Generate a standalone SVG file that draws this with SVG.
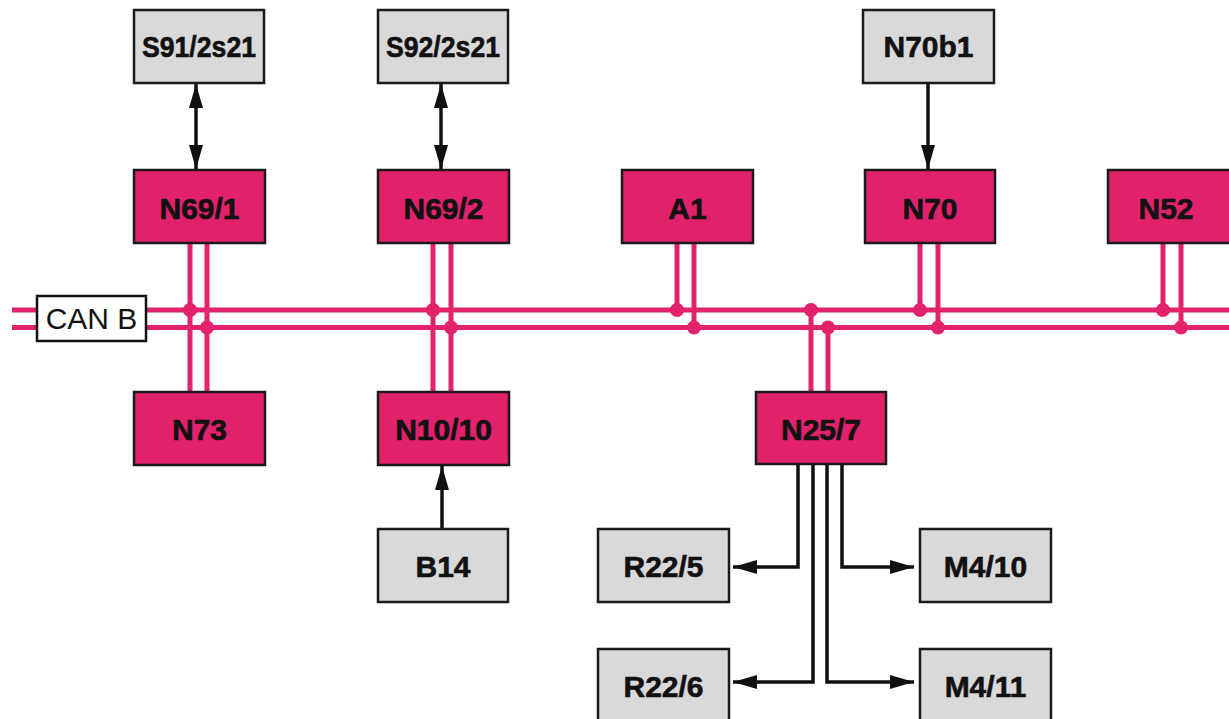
<svg xmlns="http://www.w3.org/2000/svg" width="1229" height="719" viewBox="0 0 1229 719">
<style>
.ecu{fill:#E2216C;stroke:#1a1a1a;stroke-width:2.5}
.dev{fill:#D9D9D9;stroke:#1a1a1a;stroke-width:2.5}
.lbl{font-family:"Liberation Sans",Arial,sans-serif;font-weight:bold;font-size:30px;fill:#111;stroke:#111;stroke-width:0.6;text-anchor:middle}
.can{font-family:"Liberation Sans",Arial,sans-serif;font-size:30px;fill:#111;text-anchor:middle}
.bus{stroke:#E2226C;stroke-width:5;fill:none}
.wire{stroke:#111;stroke-width:3.5;fill:none}
.dot{fill:#E2226C}
</style>
<defs>
<marker id="ah" viewBox="0 0 24 14" refX="24" refY="7" markerWidth="24" markerHeight="14" markerUnits="userSpaceOnUse" orient="auto-start-reverse">
<path d="M0,0 L24,7 L0,14 z" fill="#111"/>
</marker>
</defs>
<rect width="1229" height="719" fill="#fff"/>
<g id="connectors">
<line class="bus" x1="12" y1="310" x2="1229" y2="310"/>
<line class="bus" x1="12" y1="327.5" x2="1229" y2="327.5"/>
<line class="bus" x1="190" y1="243" x2="190" y2="392"/>
<line class="bus" x1="207" y1="243" x2="207" y2="392"/>
<line class="bus" x1="433" y1="243" x2="433" y2="392"/>
<line class="bus" x1="451" y1="243" x2="451" y2="392"/>
<line class="bus" x1="677" y1="243" x2="677" y2="310"/>
<line class="bus" x1="694" y1="243" x2="694" y2="327.5"/>
<line class="bus" x1="920" y1="243" x2="920" y2="310"/>
<line class="bus" x1="938" y1="243" x2="938" y2="327.5"/>
<line class="bus" x1="1163" y1="243" x2="1163" y2="310"/>
<line class="bus" x1="1181" y1="243" x2="1181" y2="327.5"/>
<line class="bus" x1="811" y1="310" x2="811" y2="392"/>
<line class="bus" x1="828" y1="327.5" x2="828" y2="392"/>
<circle class="dot" cx="190" cy="310" r="7"/>
<circle class="dot" cx="207" cy="327.5" r="7"/>
<circle class="dot" cx="433" cy="310" r="7"/>
<circle class="dot" cx="451" cy="327.5" r="7"/>
<circle class="dot" cx="677" cy="310" r="7"/>
<circle class="dot" cx="694" cy="327.5" r="7"/>
<circle class="dot" cx="811" cy="310" r="7"/>
<circle class="dot" cx="828" cy="327.5" r="7"/>
<circle class="dot" cx="920" cy="310" r="7"/>
<circle class="dot" cx="938" cy="327.5" r="7"/>
<circle class="dot" cx="1163" cy="310" r="7"/>
<circle class="dot" cx="1181" cy="327.5" r="7"/>
<line class="wire" x1="196" y1="84" x2="196" y2="169" marker-start="url(#ah)" marker-end="url(#ah)"/>
<line class="wire" x1="441" y1="84" x2="441" y2="169" marker-start="url(#ah)" marker-end="url(#ah)"/>
<line class="wire" x1="928" y1="83" x2="928" y2="169" marker-end="url(#ah)"/>
<line class="wire" x1="442" y1="528" x2="442" y2="466" marker-end="url(#ah)"/>
<polyline class="wire" points="798,465 798,567 733,567" marker-end="url(#ah)"/>
<polyline class="wire" points="842,465 842,567 914,567" marker-end="url(#ah)"/>
<polyline class="wire" points="813,465 813,682 733,682" marker-end="url(#ah)"/>
<polyline class="wire" points="827,465 827,682 914,682" marker-end="url(#ah)"/>
</g>
<g id="canb"><rect x="37" y="296" width="109" height="45" fill="#fff" stroke="#111" stroke-width="2.5"/><text class="can" x="91.5" y="329">CAN B</text></g>
<g id="S91-2s21"><rect class="dev" x="134" y="10" width="130" height="73"/><text class="lbl" x="199" y="57" textLength="114" lengthAdjust="spacingAndGlyphs">S91/2s21</text></g>
<g id="S92-2s21"><rect class="dev" x="378" y="10" width="130" height="73"/><text class="lbl" x="443" y="57" textLength="114" lengthAdjust="spacingAndGlyphs">S92/2s21</text></g>
<g id="N70b1"><rect class="dev" x="863" y="10" width="131" height="73"/><text class="lbl" x="928.5" y="57">N70b1</text></g>
<g id="N69-1"><rect class="ecu" x="134" y="170" width="131" height="73"/><text class="lbl" x="199.5" y="219">N69/1</text></g>
<g id="N69-2"><rect class="ecu" x="378" y="170" width="131" height="73"/><text class="lbl" x="443.5" y="219">N69/2</text></g>
<g id="A1"><rect class="ecu" x="622" y="170" width="131" height="73"/><text class="lbl" x="687.5" y="219">A1</text></g>
<g id="N70"><rect class="ecu" x="865" y="170" width="130" height="73"/><text class="lbl" x="930" y="219">N70</text></g>
<g id="N52"><rect class="ecu" x="1108" y="170" width="130" height="73"/><text class="lbl" x="1166" y="219">N52</text></g>
<g id="N73"><rect class="ecu" x="134" y="392" width="131" height="73"/><text class="lbl" x="199.5" y="440">N73</text></g>
<g id="N10-10"><rect class="ecu" x="378" y="392" width="131" height="73"/><text class="lbl" x="443.5" y="440">N10/10</text></g>
<g id="N25-7"><rect class="ecu" x="756" y="392" width="130" height="72"/><text class="lbl" x="821" y="440">N25/7</text></g>
<g id="B14"><rect class="dev" x="378" y="529" width="130" height="73"/><text class="lbl" x="443" y="577">B14</text></g>
<g id="R22-5"><rect class="dev" x="598" y="529" width="131" height="73"/><text class="lbl" x="663.5" y="577">R22/5</text></g>
<g id="M4-10"><rect class="dev" x="920" y="529" width="131" height="73"/><text class="lbl" x="985.5" y="577">M4/10</text></g>
<g id="R22-6"><rect class="dev" x="598" y="649" width="131" height="80"/><text class="lbl" x="663.5" y="697">R22/6</text></g>
<g id="M4-11"><rect class="dev" x="920" y="649" width="131" height="80"/><text class="lbl" x="985.5" y="697">M4/11</text></g>
</svg>
